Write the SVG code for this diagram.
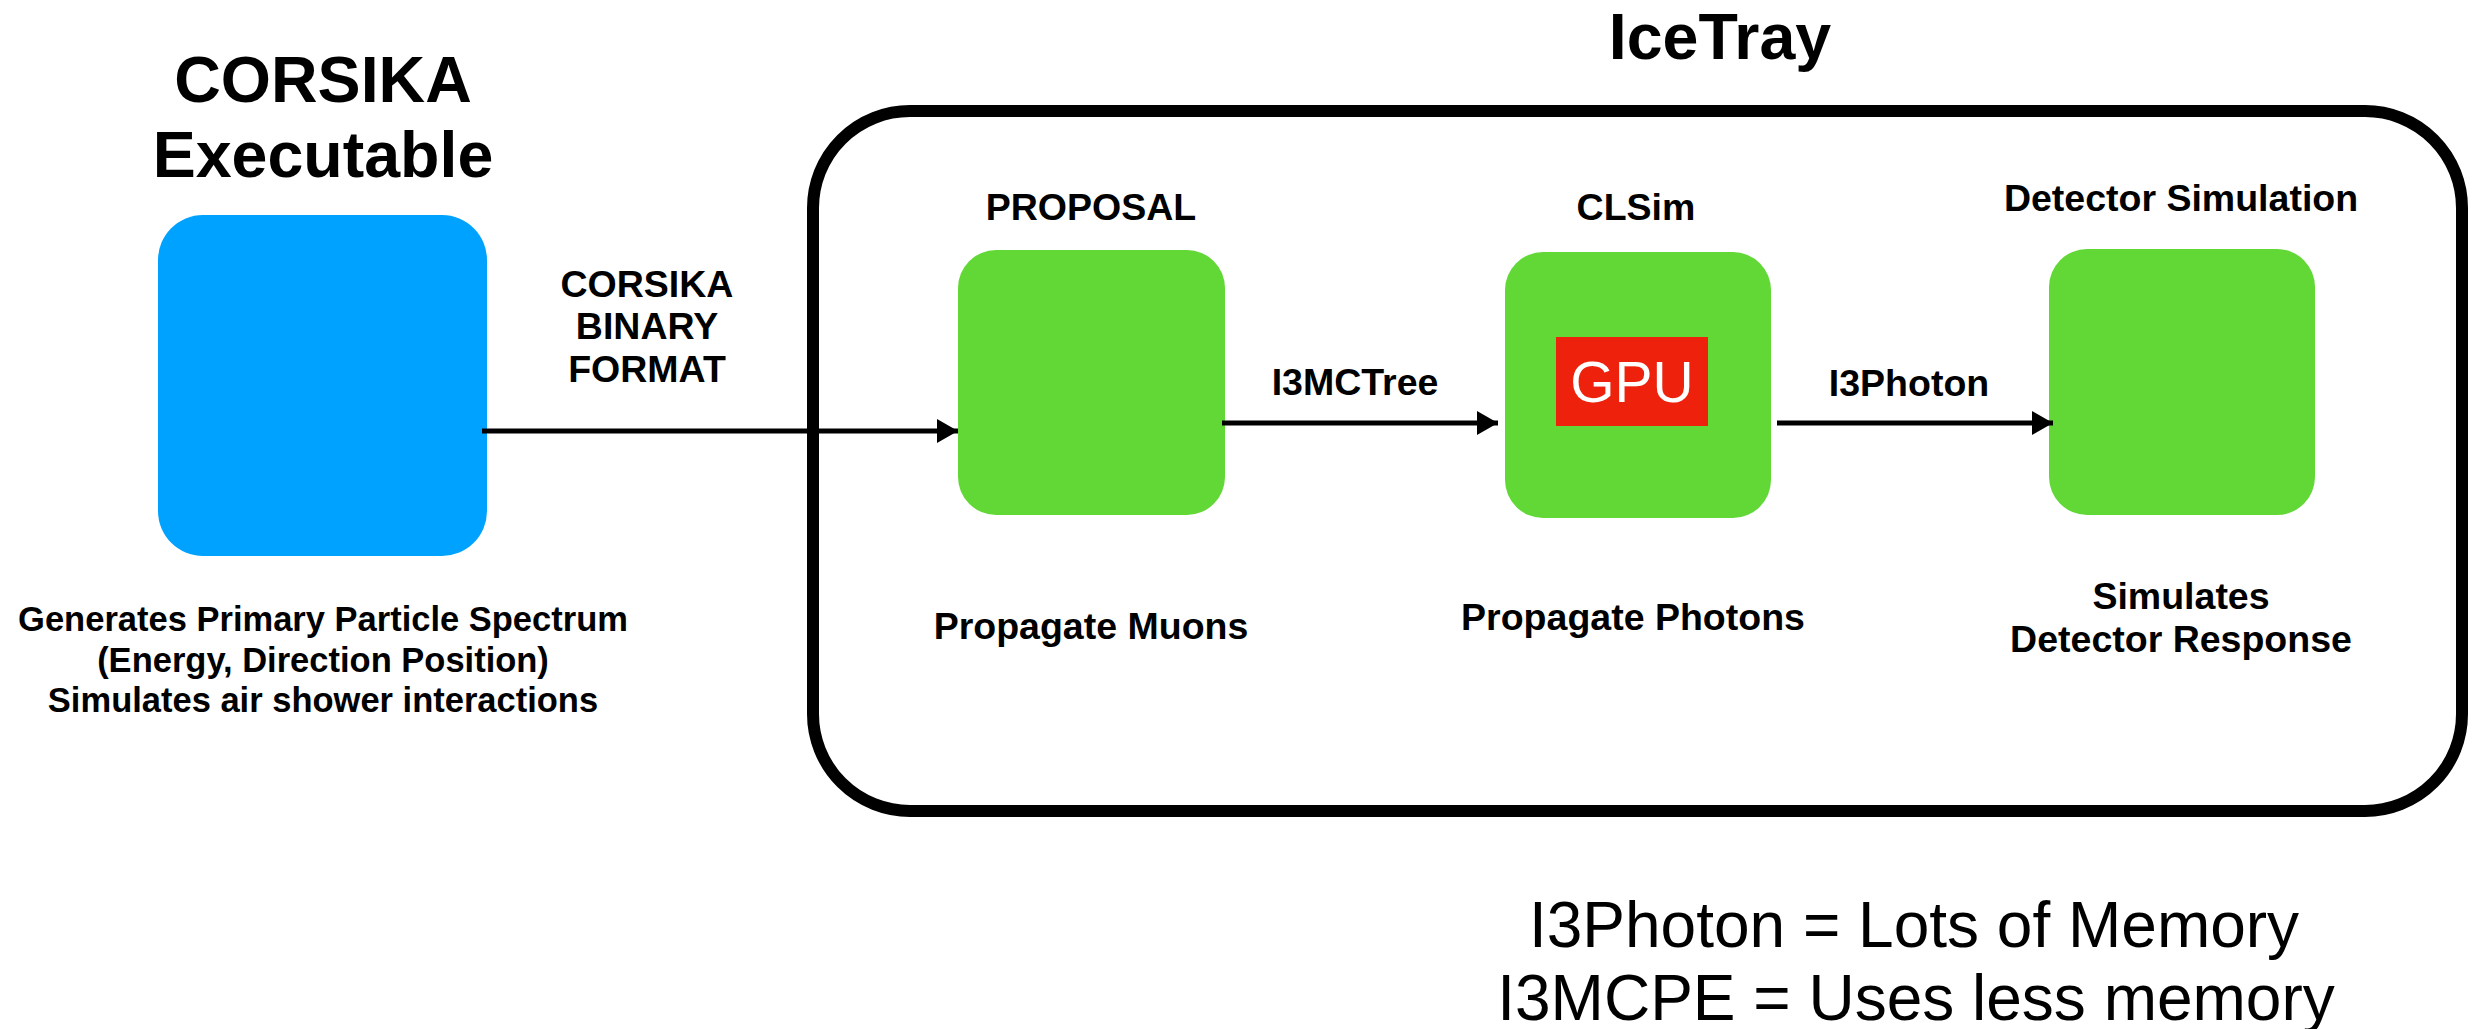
<svg xmlns="http://www.w3.org/2000/svg" width="2486" height="1029" viewBox="0 0 2486 1029">
<defs>
<style>
.t{font-family:"Liberation Sans",Arial,sans-serif;fill:#000;text-anchor:middle}
.b{font-weight:bold}
.title{font-size:64.5px}
.lbl{font-size:37.5px}
.desc{font-size:34.5px}
.note{font-size:64px}
.green{fill:#62D836}
.edge{stroke:#000;stroke-width:5;fill:none}
</style>
<marker id="ah" markerWidth="21" markerHeight="24" refX="21" refY="12" orient="auto" markerUnits="userSpaceOnUse">
<path d="M0,0 L21,12 L0,24 Z" fill="#000"/>
</marker>
</defs>
<rect width="2486" height="1029" fill="#fff"/>

<g id="icetray">
<rect x="813" y="111" width="1649" height="700" rx="97" ry="97" fill="none" stroke="#000" stroke-width="12"/>
<text class="t b title" x="1720" y="59">IceTray</text>
</g>

<g id="corsika">
<text class="t b title" x="323" y="102">CORSIKA</text>
<text class="t b title" x="323" y="177">Executable</text>
<rect x="158" y="215" width="329" height="341" rx="45" ry="45" fill="#00A2FF"/>
<text class="t b desc" x="323" y="631">Generates Primary Particle Spectrum</text>
<text class="t b desc" x="323" y="672">(Energy, Direction Position)</text>
<text class="t b desc" x="323" y="712">Simulates air shower interactions</text>
</g>

<g id="proposal">
<text class="t b lbl" x="1091" y="220">PROPOSAL</text>
<rect class="green" x="958" y="250" width="267" height="265" rx="38" ry="38"/>
<text class="t b lbl" x="1091" y="639">Propagate Muons</text>
</g>

<g id="clsim">
<text class="t b lbl" x="1636" y="220">CLSim</text>
<rect class="green" x="1505" y="252" width="266" height="266" rx="38" ry="38"/>
<rect x="1556" y="337" width="152" height="89" fill="#EE220C"/>
<text class="t" x="1632" y="402" style="font-size:57px;fill:#fff">GPU</text>
<text class="t b lbl" x="1633" y="630">Propagate Photons</text>
</g>

<g id="detector">
<text class="t b lbl" x="2181" y="211">Detector Simulation</text>
<rect class="green" x="2049" y="249" width="266" height="266" rx="38" ry="38"/>
<text class="t b lbl" x="2181" y="609">Simulates</text>
<text class="t b lbl" x="2181" y="652">Detector Response</text>
</g>

<g id="connectors">
<line class="edge" x1="482" y1="431" x2="958" y2="431" marker-end="url(#ah)"/>
<text class="t b lbl" x="647" y="297">CORSIKA</text>
<text class="t b lbl" x="647" y="339">BINARY</text>
<text class="t b lbl" x="647" y="382">FORMAT</text>
<line class="edge" x1="1222" y1="423" x2="1498" y2="423" marker-end="url(#ah)"/>
<text class="t b lbl" x="1355" y="395">I3MCTree</text>
<line class="edge" x1="1777" y1="423" x2="2053" y2="423" marker-end="url(#ah)"/>
<text class="t b lbl" x="1909" y="396">I3Photon</text>
</g>

<g id="notes">
<text class="t note" x="1914" y="947">I3Photon = Lots of Memory</text>
<text class="t note" x="1916" y="1020">I3MCPE = Uses less memory</text>
</g>
</svg>
